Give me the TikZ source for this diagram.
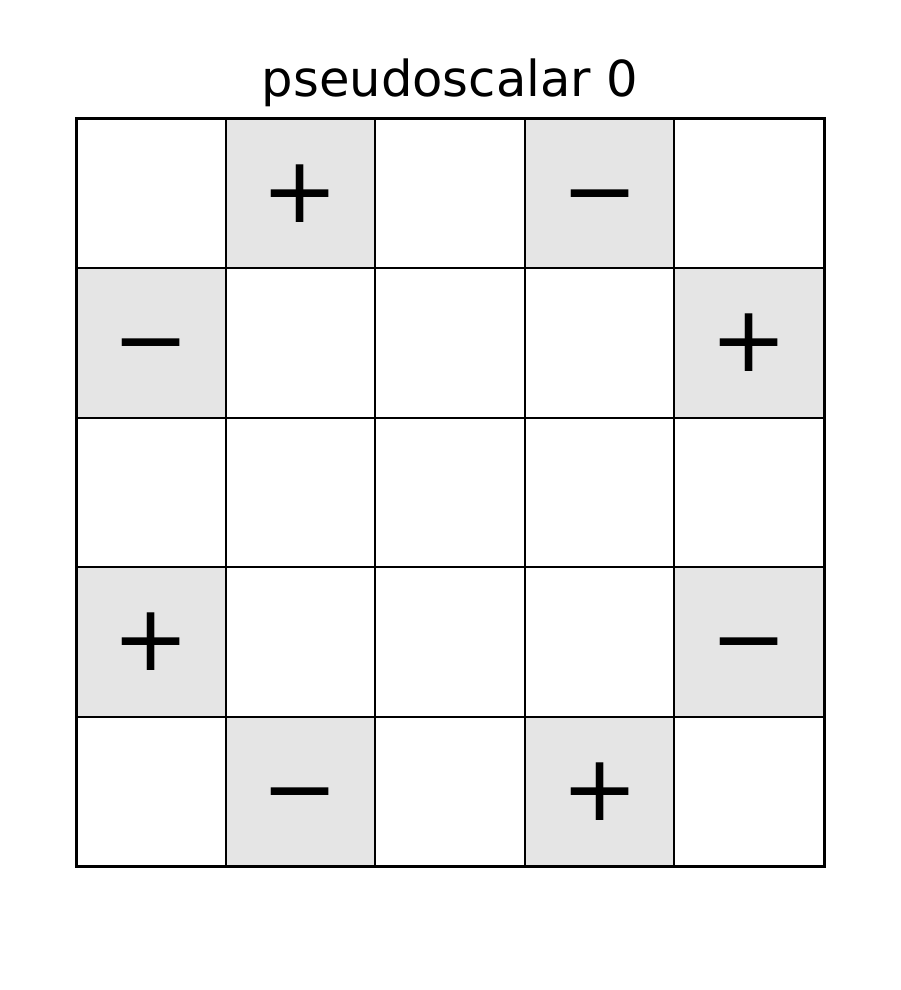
\documentclass[tikz,border=0pt]{standalone}
\usepackage{fontspec}
\setmainfont{DejaVu Sans}
\begin{document}
\begin{tikzpicture}[x=0.5pt,y=-0.5pt,
  cellbox/.style={draw=black,line width=1pt,minimum width=74.8pt,minimum height=74.7pt,inner sep=0pt,outer sep=0pt},
  shaded/.style={cellbox,fill=black!10},
  signtxt/.style={font=\fontsize{46}{46}\selectfont,inner sep=0pt}]
\useasboundingbox (0,0) rectangle (900,990);
\node[anchor=base] (title) at (450,96.5) {\fontsize{24.8}{28}\selectfont pseudoscalar 0};
\foreach \r in {0,...,4}{
  \foreach \c in {0,...,4}{
    \node[cellbox] (c\r\c) at ({76+149.6*(\c+0.5)},{119+149.4*(\r+0.5)}) {};
  }
}
\foreach \r/\c/\s in {0/1/+,0/3/−,1/0/−,1/4/+,3/0/+,3/4/−,4/1/−,4/3/+}{
  \node[shaded] (s\r\c) at (c\r\c) {};
  \node[signtxt] (t\r\c) at (c\r\c) {\vphantom{+}\s};
}
\draw[line width=1.5pt] (c00.north west) rectangle (c44.south east);
\end{tikzpicture}
\end{document}
